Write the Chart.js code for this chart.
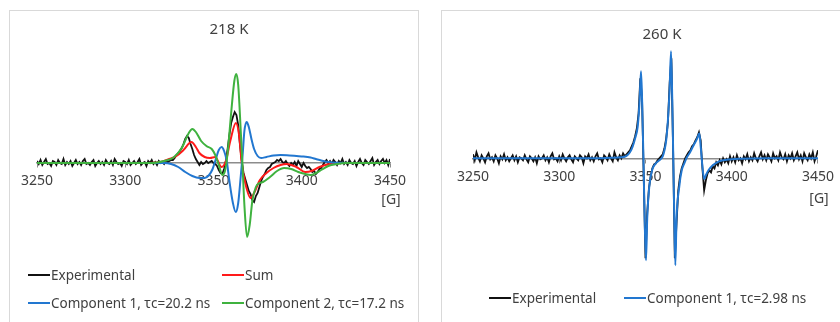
<!DOCTYPE html>
<html>
<head>
<meta charset="utf-8">
<script src="https://cdn.jsdelivr.net/npm/chart.js@4.4.0/dist/chart.umd.min.js"></script>
<style>
  body { margin: 0; background: #fff; width: 840px; height: 322px; overflow: hidden; position: relative; }
  .panel { position: absolute; border: 1px solid #d9d9d9; background: #fff; }
  #panel-left { left: 9px; top: 10px; width: 408px; height: 330px; }
  #panel-right { left: 441px; top: 10px; width: 420px; height: 330px; }
  canvas { position: absolute; top: 0; }
</style>
</head>
<body>
<div class="panel" id="panel-left"></div>
<div class="panel" id="panel-right"></div>
<canvas id="chart-218" width="420" height="322" style="left:0"></canvas>
<canvas id="chart-260" width="420" height="322" style="left:420px"></canvas>
<script>
// Field axis [G]
const fieldStart = 3250;          // experimental traces: one value per gauss
const fieldTicks = [3250, 3300, 3350, 3400, 3450];

// ---- 218 K ----
const exp218 = [
    2, -1, 3, -2, 1, 4, -1, 0, -3, 2,          // 3250
    1, -2, 3, 0, -1, 4, -2, 1, -1, 2,          // 3260
    -3, 0, 3, -1, 1, -2, 2, 4, -1, 0,          // 3270
    -2, 1, 3, -3, 0, 2, -1, 1, -2, 3,          // 3280
    0, -1, 2, -2, 4, 1, -1, 0, -3, 2,          // 3290
    1, -1, 3, -2, 0, 2, -1, 1, 4, -2,          // 3300
    0, 1, -3, 2, 0, 3, -1, 1, -2, 2,           // 3310
    0, 1, -1, 2, 1, 2, 3, 3, 5, 8,             // 3320
    10, 12, 15, 19, 24, 27, 25, 19, 14, 8,     // 3330
    4, 1, -2, 1, -1, 0, 2, 0, 1, 2,            // 3340
    0, -1, -3, -7, -10, -11, -6, 2, 14, 28,    // 3350
    40, 46, 51, 48, 38, 18, 2, -10, -16, -22,  // 3360
    -28, -31, -37, -39, -33, -30, -24, -18, -14, -11, // 3370
    -7, -5, -4, -1, 0, 1, 3, 2, 4, 1,          // 3380
    0, 2, -1, -3, 0, -2, 1, -3, 2, -1,         // 3390
    -4, 0, -3, -5, -4, -6, -9, -8, -11, -9,    // 3400
    -6, -5, -2, 1, 3, 0, 2, -1, 3, 1,          // 3410
    -2, 2, 0, 4, -1, 1, -2, 3, 0, -1,          // 3420
    2, -3, 1, 4, 0, -2, 3, 1, -1, 2,           // 3430
    5, -2, 1, 3, -1, 2, 4, 0, 3, -2,           // 3440
    4                                          // 3450
];
const sumField218 = [3250, 3310, 3320, 3325, 3329, 3333, 3337.5, 3340, 3342, 3345, 3348, 3351, 3354.5, 3357, 3359.5, 3362.7, 3364.5, 3366, 3368, 3371, 3373, 3376.3, 3380, 3384, 3388, 3391.5, 3397, 3402, 3405.6, 3410, 3416, 3422, 3450];
const sum218 = [0, 0, 1, 4, 7, 13, 21, 16, 10, 6, 5, 6, -4, 2, 22, 40, 28, 0, -20, -35, -30, -17, -10, -5, -2, -1, -4, -9, -8, -4, -1, 0, 0];
const comp1Field218 = [3250, 3322, 3326, 3330, 3334, 3338, 3342, 3345, 3347.5, 3349.5, 3351.5, 3353, 3354.6, 3356, 3357.5, 3359, 3361, 3362.6, 3364, 3365.5, 3366.5, 3367.5, 3368.8, 3370, 3371.5, 3373, 3375, 3377, 3380, 3384, 3388, 3393, 3397, 3401, 3405, 3408, 3411, 3415, 3420, 3450];
const comp1_218 = [0, 0, -1, -4, -9, -13, -15, -15, -12, -6, 5, 13, 16, 12, 2, -18, -40, -49, -40, -12, 8, 32, 41, 36, 24, 14, 7, 5, 6, 7.5, 8, 7.5, 7, 6.5, 5.5, 4, 2.5, 1, 0.3, 0];
const comp2Field218 = [3250, 3315, 3322, 3327, 3332, 3336, 3338, 3340, 3343, 3346, 3349, 3351, 3353, 3355, 3356.5, 3358, 3360, 3361.8, 3362.9, 3364, 3365.5, 3366.5, 3367.6, 3369, 3370.5, 3372, 3374, 3376, 3378, 3382, 3386, 3390, 3394, 3398, 3402, 3405, 3408, 3411, 3415, 3420, 3425, 3450];
const comp2_218 = [0, 0, 2, 5, 15, 30, 34, 31, 22, 17, 14, 8, -2, -12, -8, 10, 50, 82, 89, 78, 30, -5, -45, -74, -62, -38, -24, -20, -19, -14, -8, -5, -6, -9, -11, -12, -10, -7, -3, -1, 0, 0];
const labels218 = ["Experimental", "Sum", "Component 1, τc=20.2 ns", "Component 2, τc=17.2 ns"];

// ---- 260 K ----
const exp260 = [
    4, -2, 6, 1, -3, 3, 0, -4, 2, 5,           // 3250
    -1, 1, -3, 3, 0, -5, 2, -1, 4, -2,         // 3260
    1, -3, 0, 3, -2, 2, -4, 1, 0, -2,          // 3270
    3, -1, -4, 2, 0, -3, 1, -5, 2, -1,         // 3280
    0, 3, -2, 1, -4, 2, 5, -1, 0, -3,          // 3290
    2, -2, 4, 0, -3, 1, 3, -1, -4, 2,          // 3300
    0, -2, 3, 1, -5, 2, 0, 4, -2, 1,           // 3310
    -3, 2, 5, -1, 0, -4, 3, 1, -2, 4,          // 3320
    0, -3, 6, 1, -2, 3, 0, 5, 2, 4,            // 3330
    6, 8, 12, 16, 22, 30, 45, 80, 60, -20,     // 3340
    -100, -55, -30, -18, -10, -6, -5, -2, 0, 2, // 3350
    4, 10, 20, 36, 75, 100, 10, -100, -65, -32, // 3360
    -18, -10, -5, 0, 3, 6, 8, 12, 14, 18,      // 3370
    21, 26, 18, -10, -32, -22, -15, -12, -14, -8, // 3380
    -10, -4, -7, -2, -6, 0, -4, -1, -5, 2,     // 3390
    -3, 1, -4, 3, -2, 0, -5, 2, -1, 4,         // 3400
    -3, 1, -2, 5, 0, -3, 2, 6, -1, 3,          // 3410
    -2, 4, 1, -3, 5, 0, 2, -2, 6, 1,           // 3420
    -1, 4, -3, 3, 0, 5, -2, 2, 6, -1,          // 3430
    3, -3, 5, 1, -2, 4, 0, 6, -3, 2,           // 3440
    8                                          // 3450
];
const comp1Field260 = [3250, 3320, 3330, 3336, 3339, 3341, 3342.6, 3344, 3345.5, 3346.5, 3347.4, 3348, 3348.8, 3349.5, 3350.3, 3351, 3352.2, 3354, 3356, 3358, 3360, 3361, 3362, 3363, 3364, 3364.8, 3365.5, 3366.1, 3366.7, 3367.3, 3368, 3369.6, 3371, 3372.5, 3374, 3375.5, 3377, 3378.5, 3380, 3381.2, 3382, 3383, 3384, 3385, 3386.5, 3389, 3392.7, 3397, 3405, 3420, 3450];
const comp1_260 = [0, 0, 0.5, 1, 2.5, 6, 12, 20, 32, 55, 87, 60, 0, -60, -102, -60, -28, -11, -5, -2, 2, 8, 18, 38, 70, 107, 60, 0, -60, -107, -60, -28, -12, -5, 1, 5, 10, 15, 20, 25, 12, -8, -21, -17, -12, -7, -3, -1.5, -0.5, 0, 0];
const labels260 = ["Experimental", "Component 1, τc=2.98 ns"];

const BLACK = "#111111", RED = "#ff1a1a", BLUE = "#2277d0", GREEN = "#3fb23f";
const TEXT = "#404040", AXIS = "#8c8c8c";
const FONT = "'Noto Sans', 'Open Sans', sans-serif";

function pairs(xs, ys) {
    return ys.map((y, i) => ({ x: xs[i], y }));
}

function experimental(values) {
    return values.map((y, i) => ({ x: fieldStart + i, y }));
}

// lower order = drawn on top
function trace(label, color, data, smooth, order, width) {
    return {
        label, data, order,
        borderColor: color,
        backgroundColor: color,
        borderWidth: width || 2,
        pointRadius: 0,
        fill: false,
        tension: 0,
        cubicInterpolationMode: smooth ? "monotone" : "default"
    };
}

// title, unit label and a grid-aligned legend
const panelText = {
    id: "panelText",
    afterDraw(chart, args, opts) {
        const ctx = chart.ctx;
        ctx.save();
        ctx.fillStyle = TEXT;
        ctx.textBaseline = "middle";
        ctx.textAlign = "center";
        ctx.font = "15px " + FONT;
        ctx.fillText(opts.title, opts.titleAt[0], opts.titleAt[1]);
        ctx.font = "14px " + FONT;
        ctx.fillText("[G]", opts.unitAt[0], opts.unitAt[1]);
        ctx.textAlign = "left";
        ctx.font = "13.5px " + FONT;
        chart.data.datasets.forEach((ds, i) => {
            const [x, y] = opts.legendAt[i];
            ctx.strokeStyle = ds.borderColor;
            ctx.lineWidth = 2;
            ctx.beginPath();
            ctx.moveTo(x, y);
            ctx.lineTo(x + 22, y);
            ctx.stroke();
            ctx.fillText(ds.label, x + 23, y + 1);
        });
        ctx.restore();
    }
};

function options(yMin, yMax, padding, text) {
    return {
        responsive: false,
        animation: false,
        layout: { padding },
        plugins: {
            legend: { display: false },
            tooltip: { enabled: false },
            panelText: text
        },
        scales: {
            x: {
                type: "linear",
                min: 3250,
                max: 3450,
                position: { y: 0 },
                afterBuildTicks: axis => { axis.ticks = fieldTicks.map(v => ({ value: v })); },
                grid: { drawOnChartArea: false, drawTicks: true, tickLength: 4, color: AXIS },
                border: { color: AXIS, width: 1.5 },
                ticks: {
                    color: TEXT, font: { size: 14, family: FONT }, padding: 6, maxRotation: 0,
                    callback: v => String(v)
                }
            },
            y: { display: false, min: yMin, max: yMax }
        }
    };
}

new Chart(document.getElementById("chart-218"), {
    type: "line",
    data: {
        datasets: [
            trace(labels218[0], BLACK, experimental(exp218), false, 4, 1.8),
            trace(labels218[1], RED, pairs(sumField218, sum218), true, 3),
            trace(labels218[2], BLUE, pairs(comp1Field218, comp1_218), true, 2),
            trace(labels218[3], GREEN, pairs(comp2Field218, comp2_218), true, 1)
        ]
    },
    options: options(-87, 118, { left: 37, right: 30, top: 45, bottom: 72 }, {
        title: "218 K", titleAt: [229, 30], unitAt: [391, 200],
        legendAt: [[28, 275], [222, 275], [28, 303], [222, 303]]
    }),
    plugins: [panelText]
});

new Chart(document.getElementById("chart-260"), {
    type: "line",
    data: {
        datasets: [
            trace(labels260[0], BLACK, experimental(exp260), false, 2, 1.8),
            trace(labels260[1], BLUE, pairs(comp1Field260, comp1_260), true, 1)
        ]
    },
    options: options(-116.7, 118.3, { left: 53, right: 21, top: 40, bottom: 47 }, {
        title: "260 K", titleAt: [242, 35], unitAt: [399, 199],
        legendAt: [[69, 298], [204, 298]]
    }),
    plugins: [panelText]
});
</script>
</body>
</html>
